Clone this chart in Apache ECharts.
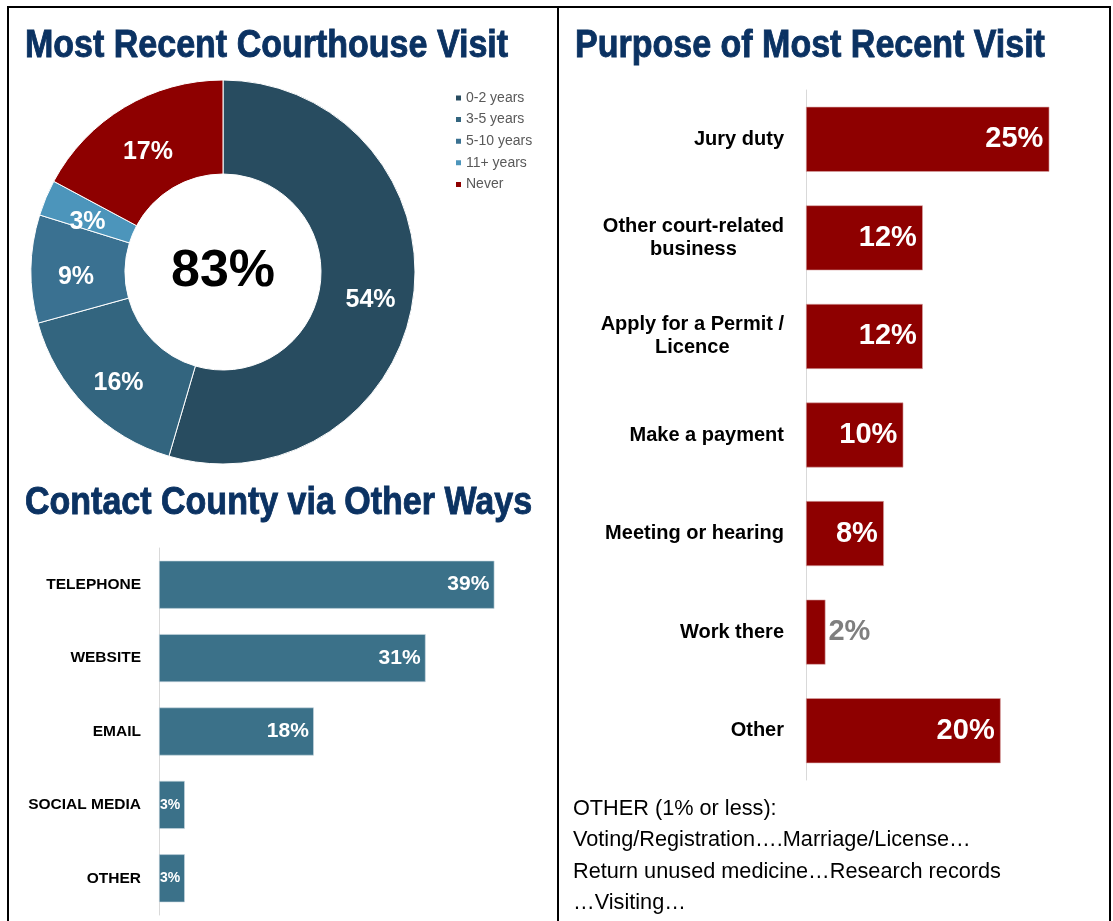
<!DOCTYPE html>
<html>
<head>
<meta charset="utf-8">
<script src="https://cdn.jsdelivr.net/npm/echarts@6/dist/echarts.min.js"></script>
<style>
  html, body { margin: 0; padding: 0; background: #ffffff; }
  #chart { width: 1113px; height: 921px; }
</style>
</head>
<body>
<div id="chart"></div>
<script>
// Most recent courthouse visit (donut)
const visitLabels = ['0-2 years', '3-5 years', '5-10 years', '11+ years', 'Never'];
const visitShares = [54, 16, 9, 3, 17];
const visitColors = ['#284c60', '#33657f', '#3a7191', '#4c95bb', '#8e0000'];
const visitedTotalText = '83%';

// Contact county via other ways (horizontal bars)
const contactCats = ['TELEPHONE', 'WEBSITE', 'EMAIL', 'SOCIAL MEDIA', 'OTHER'];
const contactShares = [39, 31, 18, 3, 3];

// Purpose of most recent visit (horizontal bars)
const purposeCats = ['Jury duty', 'Other court-related\nbusiness', 'Apply for a Permit /\nLicence',
  'Make a payment', 'Meeting or hearing', 'Work there', 'Other'];
const purposeShares = [25, 12, 12, 10, 8, 2, 20];

// Panel headings
const headings = ['Most Recent Courthouse Visit', 'Contact County via Other Ways', 'Purpose of Most Recent Visit'];

const otherNote = [
  'OTHER (1% or less):',
  'Voting/Registration\u2026.Marriage/License\u2026',
  'Return unused medicine\u2026Research records',
  '\u2026Visiting\u2026'
];

const bodyFont = '"Liberation Sans", Arial, sans-serif';
const titleColor = '#0b3262';

const chart = echarts.init(document.getElementById('chart'), null, { renderer: 'canvas' });

// Bold heading text, squeezed horizontally to get a condensed face
function heading(text, x, y) {
  return {
    type: 'text', silent: true, x: x, y: y, scaleX: 0.872,
    style: {
      text: text, align: 'left', verticalAlign: 'middle',
      font: 'bold 39px ' + bodyFont, fill: titleColor,
      stroke: titleColor, lineWidth: 0.9
    }
  };
}

const contactData = contactShares.map(function (v) {
  if (v < 5) {
    return { value: v, label: { position: 'insideLeft', distance: 1, fontSize: 14 } };
  }
  return v;
});

const purposeData = purposeShares.map(function (v) {
  if (v < 5) {
    return { value: v, label: { position: 'right', distance: 3, color: '#7f7f7f' } };
  }
  return v;
});

const option = {
  backgroundColor: '#ffffff',
  animation: false,
  legend: {
    orient: 'vertical',
    left: 449,
    top: 86,
    icon: 'rect',
    itemWidth: 7,
    itemHeight: 7,
    itemGap: 7.6,
    data: visitLabels,
    textStyle: { fontFamily: bodyFont, fontSize: 14, color: '#595959', padding: [0, 0, 0, -1] }
  },
  grid: [
    { left: 159, top: 548, width: 387, height: 367 },
    { left: 806, top: 90, width: 292, height: 690 }
  ],
  xAxis: [
    { gridIndex: 0, type: 'value', min: 0, max: 45, show: false },
    { gridIndex: 1, type: 'value', min: 0, max: 30, show: false }
  ],
  yAxis: [
    {
      gridIndex: 0, type: 'category', inverse: true, data: contactCats,
      axisLine: { show: true, lineStyle: { color: '#d9d9d9', width: 1 } },
      axisTick: { show: false },
      axisLabel: { margin: 18, fontFamily: bodyFont, fontWeight: 'bold', fontSize: 15.5, color: '#000000' }
    },
    {
      gridIndex: 1, type: 'category', inverse: true, data: purposeCats,
      axisLine: { show: true, lineStyle: { color: '#d9d9d9', width: 1 } },
      axisTick: { show: false },
      axisLabel: {
        margin: 22, color: '#000000',
        formatter: function (val) {
          return val.split('\n').map(function (s) { return '{c|' + s + '}'; }).join('\n');
        },
        rich: {
          c: { align: 'center', fontFamily: bodyFont, fontWeight: 'bold', fontSize: 20, lineHeight: 23, color: '#000000' }
        }
      }
    }
  ],
  series: [
    {
      type: 'pie',
      name: 'Most Recent Courthouse Visit',
      center: [223, 272],
      radius: [98, 192],
      startAngle: 90,
      clockwise: true,
      avoidLabelOverlap: false,
      itemStyle: { borderColor: '#ffffff', borderWidth: 1 },
      label: {
        show: true, position: 'inside', formatter: '{c}%', offset: [1, 7],
        fontFamily: bodyFont, fontWeight: 'bold', fontSize: 25, color: '#ffffff'
      },
      labelLine: { show: false },
      emphasis: { disabled: true },
      data: visitLabels.map(function (n, i) {
        return { name: n, value: visitShares[i], itemStyle: { color: visitColors[i] } };
      })
    },
    {
      type: 'bar',
      xAxisIndex: 0, yAxisIndex: 0,
      barWidth: 48,
      data: contactData,
      itemStyle: { color: '#3b7189', borderColor: '#c9d9e1', borderWidth: 0.6 },
      label: {
        show: true, position: 'insideRight', distance: 5, formatter: '{c}%',
        fontFamily: bodyFont, fontWeight: 'bold', fontSize: 21, color: '#ffffff'
      },
      emphasis: { disabled: true }
    },
    {
      type: 'bar',
      xAxisIndex: 1, yAxisIndex: 1,
      barWidth: 65,
      data: purposeData,
      itemStyle: { color: '#8e0000', borderColor: '#d9a8a8', borderWidth: 0.6 },
      label: {
        show: true, position: 'insideRight', distance: 6, formatter: '{c}%',
        fontFamily: bodyFont, fontWeight: 'bold', fontSize: 29, color: '#ffffff'
      },
      emphasis: { disabled: true }
    }
  ],
  graphic: [
    {
      type: 'polyline', silent: true,
      shape: { points: [[8, 921], [8, 7], [1110, 7], [1110, 921]] },
      style: { stroke: '#000000', lineWidth: 2, fill: null }
    },
    {
      type: 'line', silent: true,
      shape: { x1: 558, y1: 7, x2: 558, y2: 921 },
      style: { stroke: '#000000', lineWidth: 2 }
    },
    heading(headings[0], 25, 46),
    heading(headings[1], 25, 503),
    heading(headings[2], 575, 46),
    {
      type: 'text', silent: true, x: 223, y: 272,
      style: {
        text: visitedTotalText, align: 'center', verticalAlign: 'middle',
        font: 'bold 52px ' + bodyFont, fill: '#000000'
      }
    },
    {
      type: 'text', silent: true, x: 573, y: 793,
      style: {
        text: otherNote.join('\n'), align: 'left', verticalAlign: 'top',
        font: '21.7px ' + bodyFont, lineHeight: 31.5, fill: '#000000'
      }
    }
  ]
};

chart.setOption(option);
</script>
</body>
</html>
